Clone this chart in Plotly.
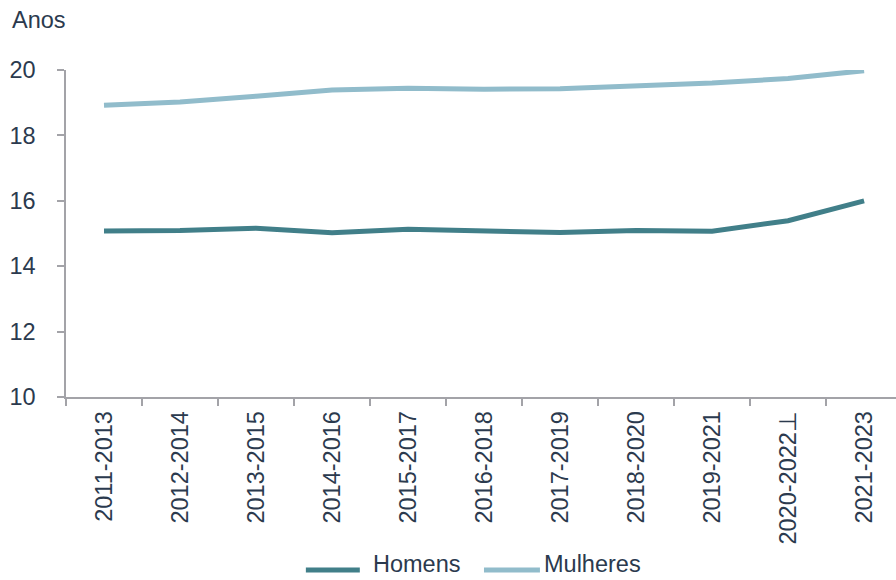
import plotly.graph_objects as go

categories = ["2011-2013", "2012-2014", "2013-2015", "2014-2016", "2015-2017", "2016-2018",
              "2017-2019", "2018-2020", "2019-2021", "2020-2022⊥", "2021-2023"]
homens = [15.08, 15.09, 15.16, 15.02, 15.13, 15.07, 15.03, 15.09, 15.07, 15.39, 16.0]
mulheres = [18.92, 19.02, 19.2, 19.39, 19.44, 19.41, 19.43, 19.5, 19.6, 19.74, 19.98]
y_ticks = [10, 12, 14, 16, 18, 20]
series_names = ["Homens", "Mulheres"]
series_colors = ["#417f89", "#91bccb"]

text_color = "#2b3a4e"
axis_color = "#a3a3a8"
fsize = 23.5

fig = go.Figure()
for name, vals, col in zip(series_names, [homens, mulheres], series_colors):
    fig.add_trace(go.Scatter(x=categories, y=vals, name=name, mode="lines",
                             line=dict(color=col, width=5), cliponaxis=False,
                             showlegend=False))

# manual legend (paper coordinates of the plot area)
legend_line_y = -0.529
legend_text_y = -0.5122
legend_items = [(0.289, 0.354, 0.369), (0.5036, 0.571, 0.5747)]
shapes = []
annotations = []
for (x0, x1, xt), name, col in zip(legend_items, series_names, series_colors):
    shapes.append(dict(type="line", xref="paper", yref="paper", x0=x0, x1=x1,
                       y0=legend_line_y, y1=legend_line_y, line=dict(color=col, width=5)))
    annotations.append(dict(text=name, xref="paper", yref="paper", x=xt, y=legend_text_y,
                            xanchor="left", yanchor="middle", showarrow=False, borderpad=0,
                            font=dict(size=fsize, color=text_color)))
annotations.append(dict(text="Anos", xref="paper", yref="paper", x=-0.0675, y=1.153,
                        xanchor="left", yanchor="middle", showarrow=False,
                        font=dict(size=fsize, color=text_color)))

fig.update_layout(
    width=896, height=580,
    margin=dict(l=66, r=0, t=70, b=183, autoexpand=False),
    paper_bgcolor="white", plot_bgcolor="white",
    font=dict(family="Liberation Sans, Arial, sans-serif", size=fsize, color=text_color),
    showlegend=False,
    shapes=shapes,
    annotations=annotations,
)
fig.update_xaxes(
    type="category", range=[-0.5, 10.42], showline=True, linecolor=axis_color, linewidth=1.5,
    ticks="outside", tickson="boundaries", ticklen=7, tickcolor=axis_color, tickwidth=1.5,
    tickangle=-90, showgrid=False, zeroline=False, tickfont=dict(size=fsize), automargin=False,
    ticklabelstandoff=3,
)
fig.update_yaxes(
    range=[10, 20], tickvals=y_ticks, showline=True, linecolor=axis_color, linewidth=1.5,
    ticks="outside", ticklen=7, tickcolor=axis_color, tickwidth=1.5,
    showgrid=False, zeroline=False, tickfont=dict(size=fsize), ticklabelstandoff=17,
    automargin=False,
)

fig.write_html("out.html", post_script="document.body.style.margin='0';",
               config={"displayModeBar": False})
